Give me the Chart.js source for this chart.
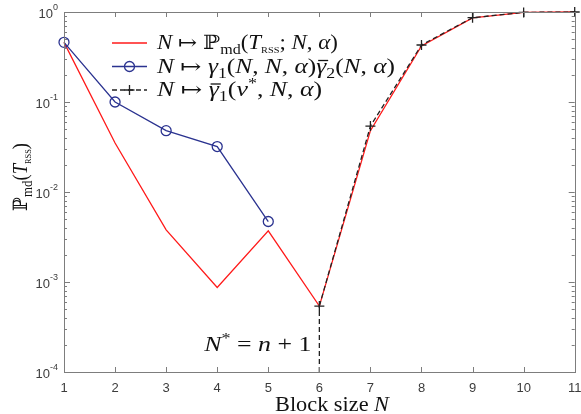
<!DOCTYPE html>
<html>
<head>
<meta charset="utf-8">
<script src="https://cdn.jsdelivr.net/npm/chart.js@4"></script>
<style>
  html, body { margin: 0; padding: 0; background: #fff; }
  #wrap { width: 581px; height: 414px; }
</style>
</head>
<body>
<div id="wrap"><canvas id="chart" width="581" height="414"></canvas></div>
<script>
// block sizes and curves
const blockSizes = [1, 2, 3, 4, 5, 6, 7, 8, 9, 10, 11];
const pmdValues = [0.46, 0.035, 0.0038, 0.00087, 0.0037, 0.00054, 0.048, 0.42, 0.86, 0.99, 1.0];
const gammaProdSizes = [1, 2, 3, 4, 5];
const gammaProdValues = [0.46, 0.1, 0.048, 0.032, 0.0047];
const gammaBarSizes = [6, 7, 8, 9, 10, 11];
const gammaBarValues = [0.00054, 0.054, 0.43, 0.865, 0.99, 1.0];
const nStarSizes = [6, 6];
const nStarValues = [1e-4, 0.00054];

const xTicks = [1, 2, 3, 4, 5, 6, 7, 8, 9, 10, 11];
const yTickExponents = [-4, -3, -2, -1, 0];

const RED = '#ff1a1a';
const BLUE = '#2b3390';
const BLACK = '#222222';
const AXIS = '#7d7d7d';
const LABEL = '#3c3c3c';
const SERIF = '"Liberation Serif", "DejaVu Serif", serif';
const SANS = '"Liberation Sans", Arial, sans-serif';

const toPoints = (xs, ys) => xs.map((x, i) => ({ x: x, y: ys[i] }));

// rich text: segments of [text, flags], flags: i italic, sub, sup, tiny, over
function segFont(s, size) {
    const f = s[1] || '';
    let fs = size;
    if (f.includes('sub') || f.includes('sup')) fs = size * 0.7;
    if (f.includes('tiny')) fs = size * 0.45;
    return (f.includes('i') && !f.includes('tiny') ? 'italic ' : '') + fs.toFixed(1) + 'px ' + SERIF;
}
function richWidth(ctx, segs, size) {
    let w = 0;
    segs.forEach(s => {
        ctx.font = segFont(s, size);
        w += ctx.measureText(s[0]).width;
    });
    return w;
}
function drawRich(ctx, x, y, segs, size) {
    let cx = x;
    segs.forEach(s => {
        const f = s[1] || '';
        ctx.font = segFont(s, size);
        let dy = 0;
        if (f.includes('sub')) dy = size * 0.25;
        if (f.includes('tiny')) dy = size * 0.22;
        if (f.includes('sup')) dy = -size * 0.38;
        ctx.fillText(s[0], cx, y + dy);
        const w = ctx.measureText(s[0]).width;
        if (f.includes('over')) {
            ctx.save();
            ctx.lineWidth = 1.3;
            ctx.strokeStyle = ctx.fillStyle;
            ctx.beginPath();
            ctx.moveTo(cx + 1.5, y - size * 0.6);
            ctx.lineTo(cx + w + 1.5, y - size * 0.6);
            ctx.stroke();
            ctx.restore();
        }
        cx += w;
    });
    return cx - x;
}
// same text stretched to the width it takes in the figure (LaTeX fonts are wider)
function drawFitted(ctx, x, y, segs, size, width) {
    const w = richWidth(ctx, segs, size);
    ctx.save();
    ctx.translate(x, y);
    ctx.scale(width / w, 1);
    drawRich(ctx, 0, 0, segs, size);
    ctx.restore();
}

const legendRows = [
    { color: RED, dash: [], marker: null, width: 181, segs: [['N', 'i'], [' ↦ ', ''], ['ℙ', ''], ['md', 'sub'], ['(', ''], ['T', 'i'], ['RSS', 'tiny'], ['; ', ''], ['N', 'i'], [', ', ''], ['α', 'i'], [')', '']] },
    { color: BLUE, dash: [], marker: 'circle', width: 238, segs: [['N', 'i'], [' ↦ ', ''], ['γ', 'i'], ['1', 'sub'], ['(', ''], ['N', 'i'], [', ', ''], ['N', 'i'], [', ', ''], ['α', 'i'], [')', ''], ['γ', 'i over'], ['2', 'sub'], ['(', ''], ['N', 'i'], [', ', ''], ['α', 'i'], [')', '']] },
    { color: BLACK, dash: [5, 3], marker: 'plus', width: 165, segs: [['N', 'i'], [' ↦ ', ''], ['γ', 'i over'], ['1', 'sub'], ['(', ''], ['ν', 'i'], ['*', 'sup'], [', ', ''], ['N', 'i'], [', ', ''], ['α', 'i'], [')', '']] }
];

const decorPlugin = {
    id: 'decor',
    afterDraw(chart) {
        const ctx = chart.ctx;
        const area = chart.chartArea;
        const xs = chart.scales.x;
        const ys = chart.scales.y;
        ctx.save();

        // axes box
        ctx.strokeStyle = AXIS;
        ctx.lineWidth = 1;
        ctx.strokeRect(Math.round(area.left) + 0.5, Math.round(area.top) + 0.5,
            Math.round(area.right - area.left), Math.round(area.bottom - area.top));

        // x ticks inside, top and bottom
        ctx.beginPath();
        xTicks.forEach(v => {
            const px = Math.round(xs.getPixelForValue(v)) + 0.5;
            ctx.moveTo(px, area.bottom); ctx.lineTo(px, area.bottom - 5);
            ctx.moveTo(px, area.top); ctx.lineTo(px, area.top + 5);
        });
        // y ticks, major and minor, left and right
        yTickExponents.forEach(e => {
            const base = Math.pow(10, e);
            const py = Math.round(ys.getPixelForValue(base)) + 0.5;
            ctx.moveTo(area.left, py); ctx.lineTo(area.left + 6, py);
            ctx.moveTo(area.right, py); ctx.lineTo(area.right - 6, py);
            if (e < 0) {
                for (let m = 2; m <= 9; m++) {
                    const my = Math.round(ys.getPixelForValue(base * m)) + 0.5;
                    ctx.moveTo(area.left, my); ctx.lineTo(area.left + 3, my);
                    ctx.moveTo(area.right, my); ctx.lineTo(area.right - 3, my);
                }
            }
        });
        ctx.stroke();

        // tick labels
        ctx.fillStyle = LABEL;
        ctx.textBaseline = 'middle';
        ctx.textAlign = 'center';
        ctx.font = '13px ' + SANS;
        xTicks.forEach(v => {
            ctx.fillText(String(v), xs.getPixelForValue(v), area.bottom + 16);
        });
        ctx.textAlign = 'left';
        yTickExponents.forEach(e => {
            const py = ys.getPixelForValue(Math.pow(10, e));
            const ex = String(e);
            ctx.font = '9px ' + SANS;
            const ew = ctx.measureText(ex).width;
            ctx.font = '13px ' + SANS;
            const bw = ctx.measureText('10').width;
            const right = area.left - 6;
            ctx.fillText('10', right - ew - bw, py + 2);
            ctx.font = '9px ' + SANS;
            ctx.fillText(ex, right - ew, py - 4);
        });

        // axis titles
        ctx.fillStyle = '#111';
        ctx.textBaseline = 'alphabetic';
        drawFitted(ctx, 275, 411, [['Block size ', ''], ['N', 'i']], 20, 114);

        const yt = [['ℙ', ''], ['md', 'sub'], ['(', ''], ['T', 'i'], ['RSS', 'tiny'], [')', '']];
        ctx.save();
        ctx.translate(27, 177);
        ctx.rotate(-Math.PI / 2);
        drawFitted(ctx, -34, 0, yt, 20, 68);
        ctx.restore();

        // N* annotation
        const ann = [['N', 'i'], ['*', 'sup'], [' = ', ''], ['n', 'i'], [' + 1', '']];
        drawFitted(ctx, xs.getPixelForValue(6) - 115, 351, ann, 20, 107);

        // legend
        const lx0 = 112, lx1 = 147, tx = 157;
        legendRows.forEach((row, i) => {
            const ly = 43 + i * 23.5;
            ctx.strokeStyle = row.color;
            ctx.lineWidth = 1.3;
            ctx.setLineDash(row.dash);
            ctx.beginPath();
            ctx.moveTo(lx0, ly); ctx.lineTo(lx1, ly);
            ctx.stroke();
            ctx.setLineDash([]);
            const mx = (lx0 + lx1) / 2;
            if (row.marker === 'circle') {
                ctx.beginPath();
                ctx.arc(mx, ly, 5, 0, Math.PI * 2);
                ctx.stroke();
            } else if (row.marker === 'plus') {
                ctx.beginPath();
                ctx.moveTo(mx - 5, ly); ctx.lineTo(mx + 5, ly);
                ctx.moveTo(mx, ly - 5); ctx.lineTo(mx, ly + 5);
                ctx.stroke();
            }
            ctx.fillStyle = '#111';
            drawFitted(ctx, tx, ly + 6, row.segs, 20, row.width);
        });

        ctx.restore();
    }
};

new Chart(document.getElementById('chart'), {
    type: 'line',
    data: {
        datasets: [
            {
                label: 'N ↦ P_md(T_rss; N, α)',
                data: toPoints(blockSizes, pmdValues),
                borderColor: RED,
                borderWidth: 1.3,
                pointRadius: 0,
                order: 3
            },
            {
                label: 'N ↦ γ1(N, N, α)γ2(N, α)',
                data: toPoints(gammaProdSizes, gammaProdValues),
                borderColor: BLUE,
                borderWidth: 1.3,
                pointStyle: 'circle',
                pointRadius: 5,
                pointBorderWidth: 1.3,
                pointBackgroundColor: 'rgba(0,0,0,0)',
                pointBorderColor: BLUE,
                order: 2
            },
            {
                label: 'N ↦ γ1(ν*, N, α)',
                data: toPoints(gammaBarSizes, gammaBarValues),
                borderColor: BLACK,
                borderWidth: 1.3,
                borderDash: [5, 3],
                pointStyle: 'cross',
                pointRadius: 5,
                pointBorderWidth: 1.3,
                pointBorderColor: BLACK,
                order: 1
            },
            {
                label: 'N*',
                data: toPoints(nStarSizes, nStarValues),
                borderColor: BLACK,
                borderWidth: 1.3,
                borderDash: [5, 3],
                pointRadius: 0,
                order: 1
            }
        ]
    },
    options: {
        responsive: false,
        animation: false,
        devicePixelRatio: 1,
        layout: { padding: { left: 64, right: 6, top: 12, bottom: 42 } },
        datasets: { line: { clip: 8, tension: 0, fill: false } },
        plugins: { legend: { display: false }, tooltip: { enabled: false } },
        scales: {
            x: { type: 'linear', min: 1, max: 11, display: false },
            y: { type: 'logarithmic', min: 1e-4, max: 1, display: false }
        }
    },
    plugins: [decorPlugin]
});
</script>
</body>
</html>
